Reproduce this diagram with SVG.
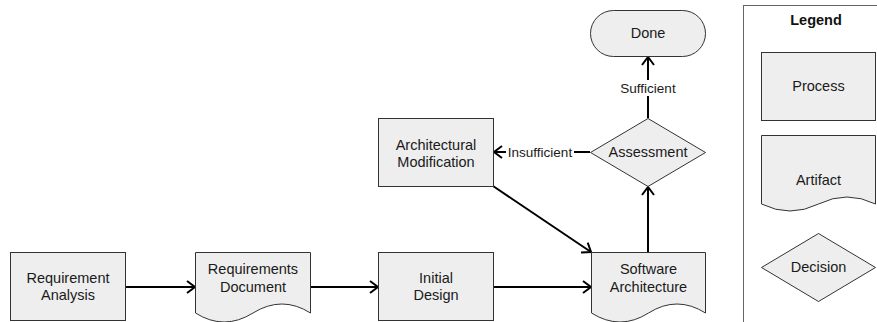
<svg xmlns="http://www.w3.org/2000/svg" width="877" height="322" viewBox="0 0 877 322">
  <style>
    .shape { fill: #eeeeee; stroke: #333333; stroke-width: 1; }
    .label { font-family: "Liberation Sans", Arial, sans-serif; font-size: 14.5px; fill: #1a1a1a; text-anchor: middle; }
    .edge-label { font-family: "Liberation Sans", Arial, sans-serif; font-size: 13.5px; fill: #1a1a1a; text-anchor: middle; }
    .title { font-family: "Liberation Sans", Arial, sans-serif; font-size: 14.5px; font-weight: bold; fill: #111111; text-anchor: middle; }
    .edge { fill: none; stroke: #000000; stroke-width: 2; }
  </style>
  <defs>
    <marker id="open-arrow" viewBox="0 0 10 14" refX="9" refY="7" markerWidth="10" markerHeight="14" markerUnits="userSpaceOnUse" orient="auto">
      <path d="M1,1 L9,7 L1,13" fill="none" stroke="#000000" stroke-width="2"/>
    </marker>
  </defs>

  <rect width="877" height="322" fill="#ffffff"/>

  <!-- Legend panel -->
  <g id="legend">
    <rect x="743.5" y="5.5" width="160" height="330" fill="none" stroke="#666666" stroke-width="1"/>
    <text class="title" x="816" y="25">Legend</text>
    <rect class="shape" x="761.5" y="52.5" width="114" height="68"/>
    <text class="label" x="818.5" y="91">Process</text>
    <path class="shape" d="M761.5,135.5 H875.5 V204 Q847,190 818.5,204 Q790,218 761.5,204 Z"/>
    <text class="label" x="818.5" y="185">Artifact</text>
    <path class="shape" d="M818.5,233.5 L875.5,267.5 L818.5,301.5 L761.5,267.5 Z"/>
    <text class="label" x="818.5" y="272">Decision</text>
  </g>

  <!-- Connectors -->
  <g id="connectors">
    <line class="edge" x1="126" y1="287" x2="195" y2="287" marker-end="url(#open-arrow)"/>
    <line class="edge" x1="311" y1="287" x2="378" y2="287" marker-end="url(#open-arrow)"/>
    <line class="edge" x1="494" y1="287" x2="591" y2="287" marker-end="url(#open-arrow)"/>
    <line class="edge" x1="493" y1="186" x2="591" y2="252" marker-end="url(#open-arrow)"/>
    <line class="edge" x1="648" y1="252" x2="648" y2="187" marker-end="url(#open-arrow)"/>
    <line class="edge" x1="590" y1="152" x2="494" y2="152" marker-end="url(#open-arrow)"/>
    <line class="edge" x1="648" y1="118" x2="648" y2="57" marker-end="url(#open-arrow)"/>
    <rect x="506" y="144" width="68" height="16" fill="#ffffff"/>
    <text class="edge-label" x="540" y="157">Insufficient</text>
    <rect x="620" y="80" width="56" height="16" fill="#ffffff"/>
    <text class="edge-label" x="648" y="92.5">Sufficient</text>
  </g>

  <g id="requirement-analysis">
    <rect class="shape" x="10.5" y="252.5" width="115" height="68"/>
    <text class="label" x="68" y="283">Requirement</text>
    <text class="label" x="68" y="300">Analysis</text>
  </g>

  <g id="requirements-document">
    <path class="shape" d="M195.5,252.5 H310.5 V313 Q282,295 253,313 Q224,331 195.5,313 Z"/>
    <text class="label" x="253" y="274">Requirements</text>
    <text class="label" x="253" y="292">Document</text>
  </g>

  <g id="initial-design">
    <rect class="shape" x="378.5" y="252.5" width="115" height="68"/>
    <text class="label" x="436" y="283">Initial</text>
    <text class="label" x="436" y="300">Design</text>
  </g>

  <g id="software-architecture">
    <path class="shape" d="M591.5,252.5 H705.5 V313 Q677,295 648.5,313 Q620,331 591.5,313 Z"/>
    <text class="label" x="648.5" y="274">Software</text>
    <text class="label" x="648.5" y="292">Architecture</text>
  </g>

  <g id="architectural-modification">
    <rect class="shape" x="378.5" y="118.5" width="115" height="68"/>
    <text class="label" x="436" y="150">Architectural</text>
    <text class="label" x="436" y="167">Modification</text>
  </g>

  <g id="assessment">
    <path class="shape" d="M648,118.5 L705.5,152.5 L648,186.5 L590.5,152.5 Z"/>
    <text class="label" x="648" y="157">Assessment</text>
  </g>

  <g id="done">
    <rect class="shape" x="590.5" y="10.5" width="115" height="46" rx="23" ry="23"/>
    <text class="label" x="648" y="38">Done</text>
  </g>
</svg>
